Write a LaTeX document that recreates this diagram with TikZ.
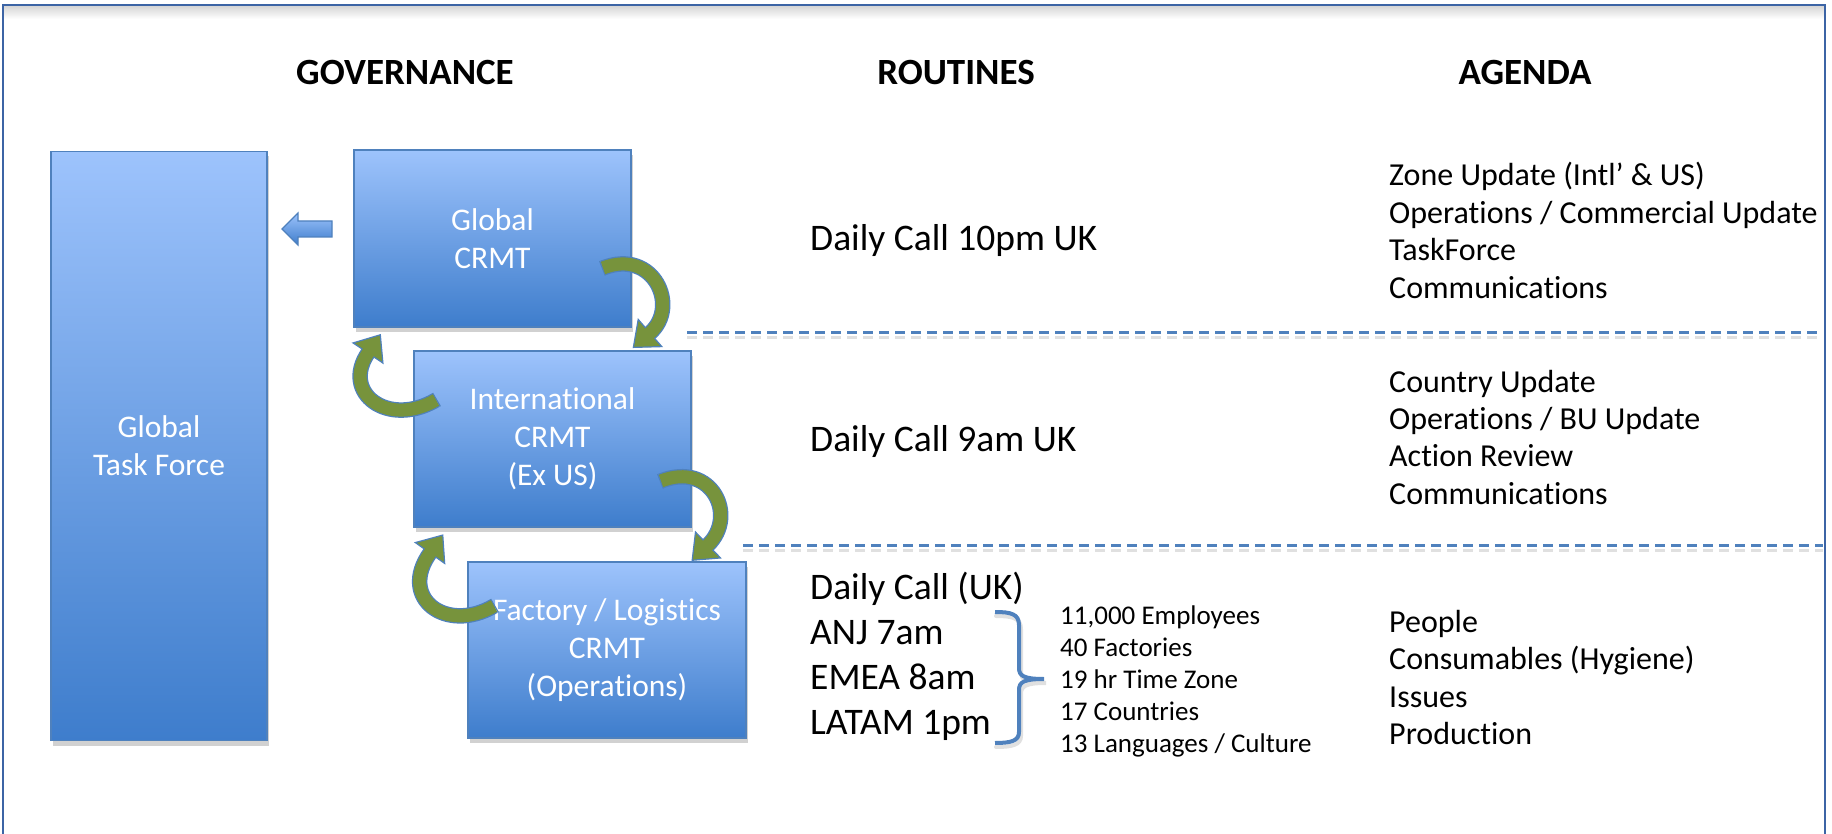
\documentclass[tikz,border=0pt]{standalone}
\usepackage{fontspec}
\setmainfont{Carlito}[Ligatures=NoCommon]
\usetikzlibrary{calc,shadows}
\definecolor{boxtop}{RGB}{157,195,252}
\definecolor{boxbot}{RGB}{62,125,204}
\definecolor{boxline}{RGB}{79,129,189}
\definecolor{arrgreen}{RGB}{119,147,60}
\definecolor{framecol}{RGB}{60,100,165}
\tikzset{
  govbox/.style={draw=boxline, line width=1.2pt, top color=boxtop, bottom color=boxbot,
    text=white, align=center, font=\fontsize{31.5}{38}\selectfont, inner sep=0pt,
    drop shadow={shadow xshift=2pt, shadow yshift=-5pt, fill=black, opacity=0.18}},
  hdr/.style={font=\bfseries\fontsize{37}{44}\selectfont, anchor=base, inner sep=0pt},
  routine/.style={font=\fontsize{37.5}{44}\selectfont, anchor=base west, inner sep=0pt},
  small/.style={font=\fontsize{27}{32}\selectfont, anchor=base west, inner sep=0pt},
  agenda/.style={font=\fontsize{32}{38}\selectfont, anchor=base west, inner sep=0pt},
  sep/.style={boxline, line width=3pt, dash pattern=on 10pt off 6pt},
  sepshadow/.style={black, opacity=0.12, line width=3pt, dash pattern=on 10pt off 6pt},
}
\newcommand{\greenarrow}[4]{%
  \draw[boxline, line width=15.5pt] ($#1!-1.2pt!#2$) -- #1;
  \draw[boxline, line width=15.5pt] #1 .. controls #2 and #3 .. #4;
  \filldraw[fill=arrgreen, draw=boxline, line width=1.2pt, line join=miter]
    ($#4!18pt!90:#3$) -- ($#4!-22pt!#3$) -- ($#4!18pt!-90:#3$) -- cycle;
  \draw[arrgreen, line width=13pt] #1 .. controls #2 and #3 .. #4 -- ($#4!-3pt!#3$);
}
\begin{document}
\begin{tikzpicture}[x=1pt, y=-1pt]
\useasboundingbox (0,0) rectangle (1832,834);
\fill[white] (0,0) rectangle (1832,834);
% frame
\shade[top color=black!16, bottom color=white] (4,6) rectangle (1824,19);
\draw[framecol, line width=2.5pt] (3,845) -- (3,5) -- (1825,5) -- (1825,845);

% headers
\node[hdr] (hgov) at (405,85) {GOVERNANCE};
\node[hdr] (hrout) at (956,85) {ROUTINES};
\node[hdr] (hag) at (1525,85) {AGENDA};

% separators
\draw[sepshadow] (687,338) -- (1823,338);
\draw[sep] (687,333) -- (1823,333);
\draw[sepshadow] (743,550) -- (1823,550);
\draw[sep] (743,545) -- (1823,545);

% governance boxes
\node[govbox, minimum width=216pt, minimum height=589pt] (gtf) at (159,446) {Global\\Task Force};
\node[govbox, minimum width=277pt, minimum height=177pt] (gcrmt) at (492.5,238.5) {Global\\CRMT};
\node[govbox, minimum width=277pt, minimum height=176pt] (icrmt) at (552.5,439) {International\\CRMT\\(Ex US)};
\node[govbox, minimum width=278pt, minimum height=176pt] (fcrmt) at (607,650) {Factory / Logistics\\CRMT\\(Operations)};

% left block arrow
\draw[draw=boxline, line width=1.2pt, top color=boxtop, bottom color=boxbot]
  (332,221) -- (298,221) -- (298,213) -- (282,229) -- (298,245) -- (298,237) -- (332,237) -- cycle;

% curved arrows
\greenarrow{(603,268)}{(654,248)}{(680,307)}{(650,333)}
\greenarrow{(436,400)}{(388,428)}{(341,393)}{(368,353)}
\greenarrow{(661,481)}{(712,461)}{(738,516)}{(708,545)}
\greenarrow{(494,606)}{(446,634)}{(398,598)}{(430,553)}

% routines
\node[routine] (r1) at (810,251) {Daily Call 10pm UK};
\node[routine] (r2) at (810,451) {Daily Call 9am UK};
\node[routine] (r3a) at (810,599) {Daily Call (UK)};
\node[routine] (r3b) at (810,644) {ANJ 7am};
\node[routine] (r3c) at (810,689) {EMEA 8am};
\node[routine] (r3d) at (810,734) {LATAM 1pm};

% brace
\draw[black, opacity=0.12, line width=4pt, line cap=round]
  (996,616) .. controls (1012,616) and (1021,618) .. (1021,629) -- (1021,672)
  .. controls (1021,680) and (1026,683) .. (1046,683)
  .. controls (1026,683) and (1021,686) .. (1021,694) -- (1021,736)
  .. controls (1021,745) and (1012,747) .. (996,747);
\draw[boxline, line width=4pt]
  (995,612) .. controls (1011,612) and (1019,614) .. (1019,625) -- (1019,668)
  .. controls (1019,676) and (1024,679) .. (1044,679)
  .. controls (1024,679) and (1019,682) .. (1019,690) -- (1019,732)
  .. controls (1019,741) and (1011,743) .. (995,743);

% facts
\node[small] (f1) at (1060,624) {11,000 Employees};
\node[small] (f2) at (1060,656) {40 Factories};
\node[small] (f3) at (1060,688) {19 hr Time Zone};
\node[small] (f4) at (1060,720) {17 Countries};
\node[small] (f5) at (1060,752) {13 Languages / Culture};

% agenda
\node[agenda] (a1a) at (1389,186) {Zone Update (Intl’ \& US)};
\node[agenda] (a1b) at (1389,224) {Operations / Commercial Update};
\node[agenda] (a1c) at (1389,261) {TaskForce};
\node[agenda] (a1d) at (1389,299) {Communications};
\node[agenda] (a2a) at (1389,392) {Country Update};
\node[agenda] (a2b) at (1389,429) {Operations / BU Update};
\node[agenda] (a2c) at (1389,466) {Action Review};
\node[agenda] (a2d) at (1389,504) {Communications};
\node[agenda] (a3a) at (1389,632) {People};
\node[agenda] (a3b) at (1389,669.5) {Consumables (Hygiene)};
\node[agenda] (a3c) at (1389,707) {Issues};
\node[agenda] (a3d) at (1389,744.5) {Production};
\end{tikzpicture}
\end{document}
